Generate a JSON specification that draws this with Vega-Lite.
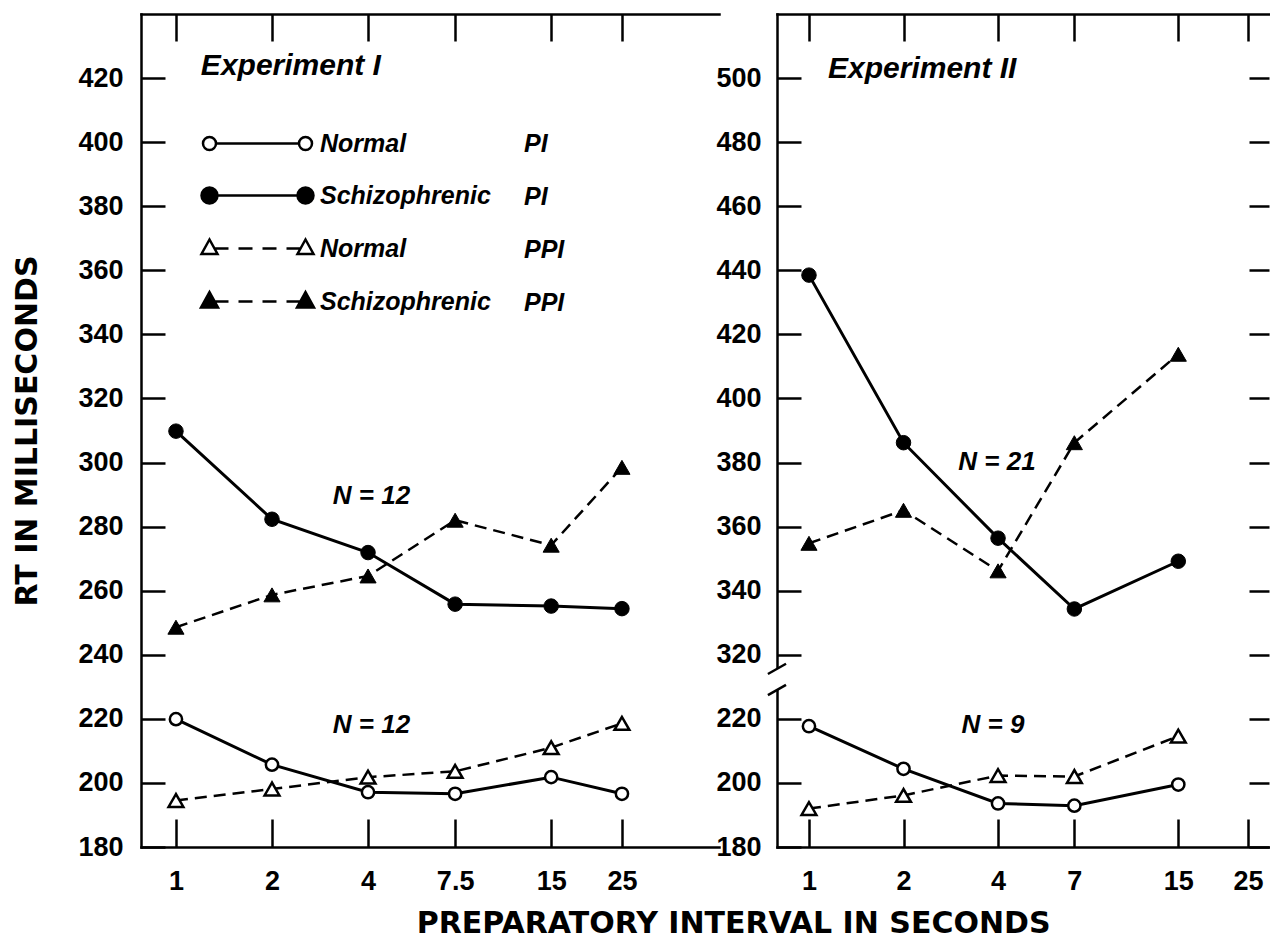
{
  "$schema": "https://vega.github.io/schema/vega-lite/v6.json",
  "usermeta": {"embedOptions": {"actions": false}},
  "background": "white",
  "padding": {"left": 12, "top": 12, "right": 0, "bottom": 0},
  "title": {"text": "PREPARATORY INTERVAL IN SECONDS", "orient": "bottom", "anchor": "middle", "font": "DejaVu Sans", "fontSize": 30, "fontWeight": "bold", "color": "black", "dx": 92, "offset": 15},
  "data": {"name": "rt"},
  "datasets": {
    "rt": [
      {"exp": "I", "series": "Normal PI", "interval": 1, "rt": 219.9},
      {"exp": "I", "series": "Normal PI", "interval": 2, "rt": 205.7},
      {"exp": "I", "series": "Normal PI", "interval": 4, "rt": 197.1},
      {"exp": "I", "series": "Normal PI", "interval": 7.5, "rt": 196.6},
      {"exp": "I", "series": "Normal PI", "interval": 15, "rt": 201.8},
      {"exp": "I", "series": "Normal PI", "interval": 25, "rt": 196.6},
      {"exp": "I", "series": "Schizophrenic PI", "interval": 1, "rt": 309.8},
      {"exp": "I", "series": "Schizophrenic PI", "interval": 2, "rt": 282.3},
      {"exp": "I", "series": "Schizophrenic PI", "interval": 4, "rt": 271.9},
      {"exp": "I", "series": "Schizophrenic PI", "interval": 7.5, "rt": 255.8},
      {"exp": "I", "series": "Schizophrenic PI", "interval": 15, "rt": 255.2},
      {"exp": "I", "series": "Schizophrenic PI", "interval": 25, "rt": 254.4},
      {"exp": "I", "series": "Normal PPI", "interval": 1, "rt": 194.5},
      {"exp": "I", "series": "Normal PPI", "interval": 2, "rt": 198.1},
      {"exp": "I", "series": "Normal PPI", "interval": 4, "rt": 201.8},
      {"exp": "I", "series": "Normal PPI", "interval": 7.5, "rt": 203.6},
      {"exp": "I", "series": "Normal PPI", "interval": 15, "rt": 211.0},
      {"exp": "I", "series": "Normal PPI", "interval": 25, "rt": 218.6},
      {"exp": "I", "series": "Schizophrenic PPI", "interval": 1, "rt": 248.6},
      {"exp": "I", "series": "Schizophrenic PPI", "interval": 2, "rt": 258.7},
      {"exp": "I", "series": "Schizophrenic PPI", "interval": 4, "rt": 264.6},
      {"exp": "I", "series": "Schizophrenic PPI", "interval": 7.5, "rt": 282.0},
      {"exp": "I", "series": "Schizophrenic PPI", "interval": 15, "rt": 274.2},
      {"exp": "I", "series": "Schizophrenic PPI", "interval": 25, "rt": 298.5},
      {"exp": "II", "series": "Normal PI", "interval": 1, "rt": 217.7},
      {"exp": "II", "series": "Normal PI", "interval": 2, "rt": 204.4},
      {"exp": "II", "series": "Normal PI", "interval": 4, "rt": 193.6},
      {"exp": "II", "series": "Normal PI", "interval": 7, "rt": 192.9},
      {"exp": "II", "series": "Normal PI", "interval": 15, "rt": 199.5},
      {"exp": "II", "series": "Schizophrenic PI", "interval": 1, "rt": 438.5},
      {"exp": "II", "series": "Schizophrenic PI", "interval": 2, "rt": 386.2},
      {"exp": "II", "series": "Schizophrenic PI", "interval": 4, "rt": 356.4},
      {"exp": "II", "series": "Schizophrenic PI", "interval": 7, "rt": 334.3},
      {"exp": "II", "series": "Schizophrenic PI", "interval": 15, "rt": 349.2},
      {"exp": "II", "series": "Normal PPI", "interval": 1, "rt": 192.0},
      {"exp": "II", "series": "Normal PPI", "interval": 2, "rt": 196.1},
      {"exp": "II", "series": "Normal PPI", "interval": 4, "rt": 202.3},
      {"exp": "II", "series": "Normal PPI", "interval": 7, "rt": 202.0},
      {"exp": "II", "series": "Normal PPI", "interval": 15, "rt": 214.6},
      {"exp": "II", "series": "Schizophrenic PPI", "interval": 1, "rt": 354.8},
      {"exp": "II", "series": "Schizophrenic PPI", "interval": 2, "rt": 365.1},
      {"exp": "II", "series": "Schizophrenic PPI", "interval": 4, "rt": 346.2},
      {"exp": "II", "series": "Schizophrenic PPI", "interval": 7, "rt": 386.2},
      {"exp": "II", "series": "Schizophrenic PPI", "interval": 15, "rt": 413.8}
    ]
  },
  "spacing": 58,
  "bounds": "flush",
  "resolve": {"scale": {"shape": "independent", "fill": "independent", "stroke": "independent", "color": "independent"}},
  "config": {
    "view": {"stroke": null},
    "axis": {"grid": false, "domainColor": "black", "domainWidth": 2.5, "domainCap": "square", "tickColor": "black", "tickWidth": 2.5, "labelColor": "black", "labelFont": "Liberation Sans", "labelFontSize": 27, "labelFontWeight": "bold", "labelFlush": false, "labelOverlap": false, "titleColor": "black", "titleFont": "DejaVu Sans", "titleFontSize": 30, "titleFontWeight": "bold"},
    "text": {"font": "Liberation Sans", "fontStyle": "italic", "fontWeight": "bold", "color": "black"}
  },
  "hconcat": [
    {
      "width": 578,
      "height": 833,
      "transform": [{"filter": {"field": "exp", "equal": "I"}}],
      "resolve": {"axis": {"y": "independent", "x": "independent"}},
      "layer": [
        {
          "transform": [{"filter": {"field": "series", "oneOf": ["Normal PI", "Schizophrenic PI"]}}],
          "mark": {"type": "line", "color": "black", "strokeWidth": 3},
          "encoding": {
            "x": {"field": "interval", "type": "quantitative", "scale": {"type": "log", "domain": [0.777, 50.37], "nice": false},
                  "axis": {"orient": "bottom", "values": [1, 2, 4, 7.5, 15, 25], "labelExpr": "format(datum.value, '~g')", "tickSize": -28, "labelPadding": 49, "title": null}},
            "y": {"field": "rt", "type": "quantitative", "scale": {"domain": [180, 440], "nice": false, "zero": false},
                  "axis": {"orient": "left", "values": [180, 200, 220, 240, 260, 280, 300, 320, 340, 360, 380, 400, 420], "tickSize": -24, "labelPadding": 42, "title": "RT IN MILLISECONDS", "titlePadding": 35}},
            "detail": {"field": "series"}
          }
        },
        {
          "transform": [{"filter": {"field": "series", "oneOf": ["Normal PPI", "Schizophrenic PPI"]}}],
          "mark": {"type": "line", "color": "black", "strokeWidth": 2.5, "strokeDash": [12, 7]},
          "encoding": {
            "x": {"field": "interval", "type": "quantitative",
                  "axis": {"orient": "top", "values": [1, 2, 4, 7.5, 15, 25], "labels": false, "tickSize": -27, "title": null}},
            "y": {"field": "rt", "type": "quantitative", "axis": null},
            "detail": {"field": "series"}
          }
        },
        {
          "transform": [{"filter": {"field": "series", "equal": "Normal PI"}}],
          "mark": {"type": "point", "shape": "circle", "filled": true, "fill": "white", "stroke": "black", "strokeWidth": 2.5, "size": 150, "opacity": 1},
          "encoding": {"x": {"field": "interval", "type": "quantitative", "axis": null}, "y": {"field": "rt", "type": "quantitative", "axis": null}}
        },
        {
          "transform": [{"filter": {"field": "series", "equal": "Schizophrenic PI"}}],
          "mark": {"type": "point", "shape": "circle", "filled": true, "fill": "black", "stroke": "black", "strokeWidth": 1, "size": 210, "opacity": 1},
          "encoding": {"x": {"field": "interval", "type": "quantitative", "axis": null}, "y": {"field": "rt", "type": "quantitative", "axis": null}}
        },
        {
          "transform": [{"filter": {"field": "series", "equal": "Normal PPI"}}],
          "mark": {"type": "point", "shape": "triangle-up", "filled": true, "fill": "white", "stroke": "black", "strokeWidth": 2.5, "size": 220, "opacity": 1},
          "encoding": {"x": {"field": "interval", "type": "quantitative", "axis": null}, "y": {"field": "rt", "type": "quantitative", "axis": null}}
        },
        {
          "transform": [{"filter": {"field": "series", "equal": "Schizophrenic PPI"}}],
          "mark": {"type": "point", "shape": "triangle-up", "filled": true, "fill": "black", "stroke": "black", "strokeWidth": 1, "size": 260, "opacity": 1},
          "encoding": {"x": {"field": "interval", "type": "quantitative", "axis": null}, "y": {"field": "rt", "type": "quantitative", "axis": null}}
        },
        {
          "mark": {"type": "point", "filled": true, "opacity": 0},
          "encoding": {
            "x": {"field": "interval", "type": "quantitative", "axis": null},
            "y": {"field": "rt", "type": "quantitative", "axis": null},
            "shape": {"field": "series", "type": "nominal",
                      "scale": {"domain": ["Normal PI", "Schizophrenic PI", "Normal PPI", "Schizophrenic PPI"],
                                "range": [
                                  "M-4.15,0L4.15,0M-4.15,0A0.65,0.65,0,1,1,-5.45,0A0.65,0.65,0,1,1,-4.15,0ZM5.45,0A0.65,0.65,0,1,1,4.15,0A0.65,0.65,0,1,1,5.45,0Z",
                                  "M-4,0L4,0M-4,0A0.8,0.8,0,1,1,-5.6,0A0.8,0.8,0,1,1,-4,0ZM5.6,0A0.8,0.8,0,1,1,4,0A0.8,0.8,0,1,1,5.6,0Z",
                                  "M-4.8,-0.9L-5.6,0.55L-4,0.55ZM4.8,-0.9L4,0.55L5.6,0.55ZM-4.3,0L-2.9,0M-1.9,0L-0.5,0M0.5,0L1.9,0M2.9,0L4.3,0",
                                  "M-4.8,-0.95L-5.65,0.6L-3.95,0.6ZM4.8,-0.95L3.95,0.6L5.65,0.6ZM-4.3,0L-2.9,0M-1.9,0L-0.5,0M0.5,0L1.9,0M2.9,0L4.3,0"
                                ]},
                      "legend": {"orient": "none", "legendX": 104, "legendY": 117, "title": null, "padding": 0, "symbolSize": 400, "symbolStrokeColor": "black", "symbolStrokeWidth": 2.5, "symbolOpacity": 1, "labelFont": "Liberation Sans", "labelFontSize": 25, "labelFontStyle": "italic", "labelFontWeight": "bold", "labelColor": "black", "labelOffset": 50, "rowPadding": 25, "labelLimit": 400, "labelExpr": "split(datum.label, ' ')[0]"}},
            "fill": {"field": "series", "type": "nominal",
                     "scale": {"domain": ["Normal PI", "Schizophrenic PI", "Normal PPI", "Schizophrenic PPI"], "range": ["white", "black", "white", "black"]},
                     "legend": {"orient": "none", "legendX": 104, "legendY": 117, "title": null, "padding": 0, "symbolSize": 400, "symbolStrokeColor": "black", "symbolStrokeWidth": 2.5, "symbolOpacity": 1, "labelFont": "Liberation Sans", "labelFontSize": 25, "labelFontStyle": "italic", "labelFontWeight": "bold", "labelColor": "black", "labelOffset": 50, "rowPadding": 25, "labelLimit": 400, "labelExpr": "split(datum.label, ' ')[0]"}},
            "stroke": {"field": "series", "type": "nominal",
                     "scale": {"domain": ["Normal PI", "Schizophrenic PI", "Normal PPI", "Schizophrenic PPI"], "range": ["black", "black", "black", "black"]},
                     "legend": {"orient": "none", "legendX": 104, "legendY": 117, "title": null, "padding": 0, "symbolSize": 400, "symbolStrokeColor": "black", "symbolStrokeWidth": 2.5, "symbolOpacity": 1, "labelFont": "Liberation Sans", "labelFontSize": 25, "labelFontStyle": "italic", "labelFontWeight": "bold", "labelColor": "black", "labelOffset": 50, "rowPadding": 25, "labelLimit": 400, "labelExpr": "split(datum.label, ' ')[0]"}}
          }
        },
        {
          "mark": {"type": "point", "filled": true, "opacity": 0},
          "encoding": {
            "x": {"field": "interval", "type": "quantitative", "axis": null},
            "y": {"field": "rt", "type": "quantitative", "axis": null},
            "color": {"field": "series", "type": "nominal", "sort": ["Normal PI", "Schizophrenic PI", "Normal PPI", "Schizophrenic PPI"],
                      "scale": {"range": ["black", "black", "black", "black"]},
                      "legend": {"orient": "none", "legendX": 354, "legendY": 117, "title": null, "padding": 0, "symbolSize": 400, "symbolStrokeWidth": 2.5, "symbolOpacity": 0, "labelFont": "Liberation Sans", "labelFontSize": 25, "labelFontStyle": "italic", "labelFontWeight": "bold", "labelColor": "black", "labelOffset": 4, "rowPadding": 27, "labelExpr": "split(datum.label, ' ')[1]"}}
          }
        },
        {
          "data": {"values": [{}]},
          "mark": {"type": "text", "text": "Experiment I", "fontSize": 30, "align": "left", "baseline": "alphabetic"},
          "encoding": {"x": {"datum": 1.197, "axis": null}, "y": {"datum": 421, "axis": null}}
        },
        {
          "data": {"values": [{}]},
          "mark": {"type": "text", "text": "N = 12", "fontSize": 26, "align": "center", "baseline": "alphabetic"},
          "encoding": {"x": {"datum": 4.1, "axis": null}, "y": {"datum": 287, "axis": null}}
        },
        {
          "data": {"values": [{}]},
          "mark": {"type": "text", "text": "N = 12", "fontSize": 26, "align": "center", "baseline": "alphabetic"},
          "encoding": {"x": {"datum": 4.1, "axis": null}, "y": {"datum": 215.6, "axis": null}}
        }
      ]
    },
    {
      "width": 492,
      "height": 833,
      "transform": [{"filter": {"field": "exp", "equal": "II"}}],
      "resolve": {"axis": {"y": "independent", "x": "independent"}},
      "layer": [
        {
          "transform": [{"filter": {"field": "series", "oneOf": ["Normal PI", "Schizophrenic PI"]}}],
          "mark": {"type": "line", "color": "black", "strokeWidth": 3},
          "encoding": {
            "x": {"field": "interval", "type": "quantitative", "scale": {"type": "log", "domain": [0.791, 29.17], "nice": false},
                  "axis": {"orient": "bottom", "values": [1, 2, 4, 7, 15, 25], "labelExpr": "format(datum.value, '~g')", "tickSize": -28, "labelPadding": 49, "title": null}},
            "y": {"field": "rt", "type": "quantitative", "scale": {"domain": [180, 240, 320, 520], "range": [833, 640.8, 640.8, 0], "nice": false, "zero": false},
                  "axis": {"orient": "left", "values": [180, 200, 220, 320, 340, 360, 380, 400, 420, 440, 460, 480, 500], "tickSize": -24, "labelPadding": 40, "title": null}},
            "detail": {"field": "series"}
          }
        },
        {
          "transform": [{"filter": {"field": "series", "oneOf": ["Normal PPI", "Schizophrenic PPI"]}}],
          "mark": {"type": "line", "color": "black", "strokeWidth": 2.5, "strokeDash": [12, 7]},
          "encoding": {
            "x": {"field": "interval", "type": "quantitative",
                  "axis": {"orient": "top", "values": [1, 2, 4, 7, 15, 25], "labels": false, "tickSize": -27, "title": null}},
            "y": {"field": "rt", "type": "quantitative",
                  "axis": {"orient": "right", "values": [180, 200, 220, 320, 340, 360, 380, 400, 420, 440, 460, 480, 500], "labels": false, "domain": false, "tickSize": -20, "title": null}},
            "detail": {"field": "series"}
          }
        },
        {
          "transform": [{"filter": {"field": "series", "equal": "Normal PI"}}],
          "mark": {"type": "point", "shape": "circle", "filled": true, "fill": "white", "stroke": "black", "strokeWidth": 2.5, "size": 150, "opacity": 1},
          "encoding": {"x": {"field": "interval", "type": "quantitative", "axis": null}, "y": {"field": "rt", "type": "quantitative", "axis": null}}
        },
        {
          "transform": [{"filter": {"field": "series", "equal": "Schizophrenic PI"}}],
          "mark": {"type": "point", "shape": "circle", "filled": true, "fill": "black", "stroke": "black", "strokeWidth": 1, "size": 210, "opacity": 1},
          "encoding": {"x": {"field": "interval", "type": "quantitative", "axis": null}, "y": {"field": "rt", "type": "quantitative", "axis": null}}
        },
        {
          "transform": [{"filter": {"field": "series", "equal": "Normal PPI"}}],
          "mark": {"type": "point", "shape": "triangle-up", "filled": true, "fill": "white", "stroke": "black", "strokeWidth": 2.5, "size": 220, "opacity": 1},
          "encoding": {"x": {"field": "interval", "type": "quantitative", "axis": null}, "y": {"field": "rt", "type": "quantitative", "axis": null}}
        },
        {
          "transform": [{"filter": {"field": "series", "equal": "Schizophrenic PPI"}}],
          "mark": {"type": "point", "shape": "triangle-up", "filled": true, "fill": "black", "stroke": "black", "strokeWidth": 1, "size": 260, "opacity": 1},
          "encoding": {"x": {"field": "interval", "type": "quantitative", "axis": null}, "y": {"field": "rt", "type": "quantitative", "axis": null}}
        },
        {
          "data": {"values": [{}]},
          "mark": {"type": "text", "text": "Experiment II", "fontSize": 30, "align": "left", "baseline": "alphabetic"},
          "encoding": {"x": {"datum": 1.15, "axis": null}, "y": {"datum": 500, "axis": null}}
        },
        {
          "data": {"values": [{}]},
          "mark": {"type": "text", "text": "N = 21", "fontSize": 26, "align": "center", "baseline": "alphabetic"},
          "encoding": {"x": {"datum": 3.97, "axis": null}, "y": {"datum": 377.7, "axis": null}}
        },
        {
          "data": {"values": [{}]},
          "mark": {"type": "text", "text": "N = 9", "fontSize": 26, "align": "center", "baseline": "alphabetic"},
          "encoding": {"x": {"datum": 3.855, "axis": null}, "y": {"datum": 215.6, "axis": null}}
        },
        {
          "data": {"values": [{}]},
          "mark": {"type": "rule", "color": "white", "strokeWidth": 6},
          "encoding": {"x": {"datum": 0.791, "axis": null}, "y": {"datum": 229.0, "axis": null}, "y2": {"datum": 235.6}}
        },
        {
          "data": {"values": [{}]},
          "mark": {"type": "rule", "color": "black", "strokeWidth": 2.5},
          "encoding": {"x": {"datum": 0.74, "axis": null}, "x2": {"datum": 0.845}, "y": {"datum": 234.0, "axis": null}, "y2": {"datum": 237.2}}
        },
        {
          "data": {"values": [{}]},
          "mark": {"type": "rule", "color": "black", "strokeWidth": 2.5},
          "encoding": {"x": {"datum": 0.74, "axis": null}, "x2": {"datum": 0.845}, "y": {"datum": 227.4, "axis": null}, "y2": {"datum": 230.6}}
        }
      ]
    }
  ]
}
